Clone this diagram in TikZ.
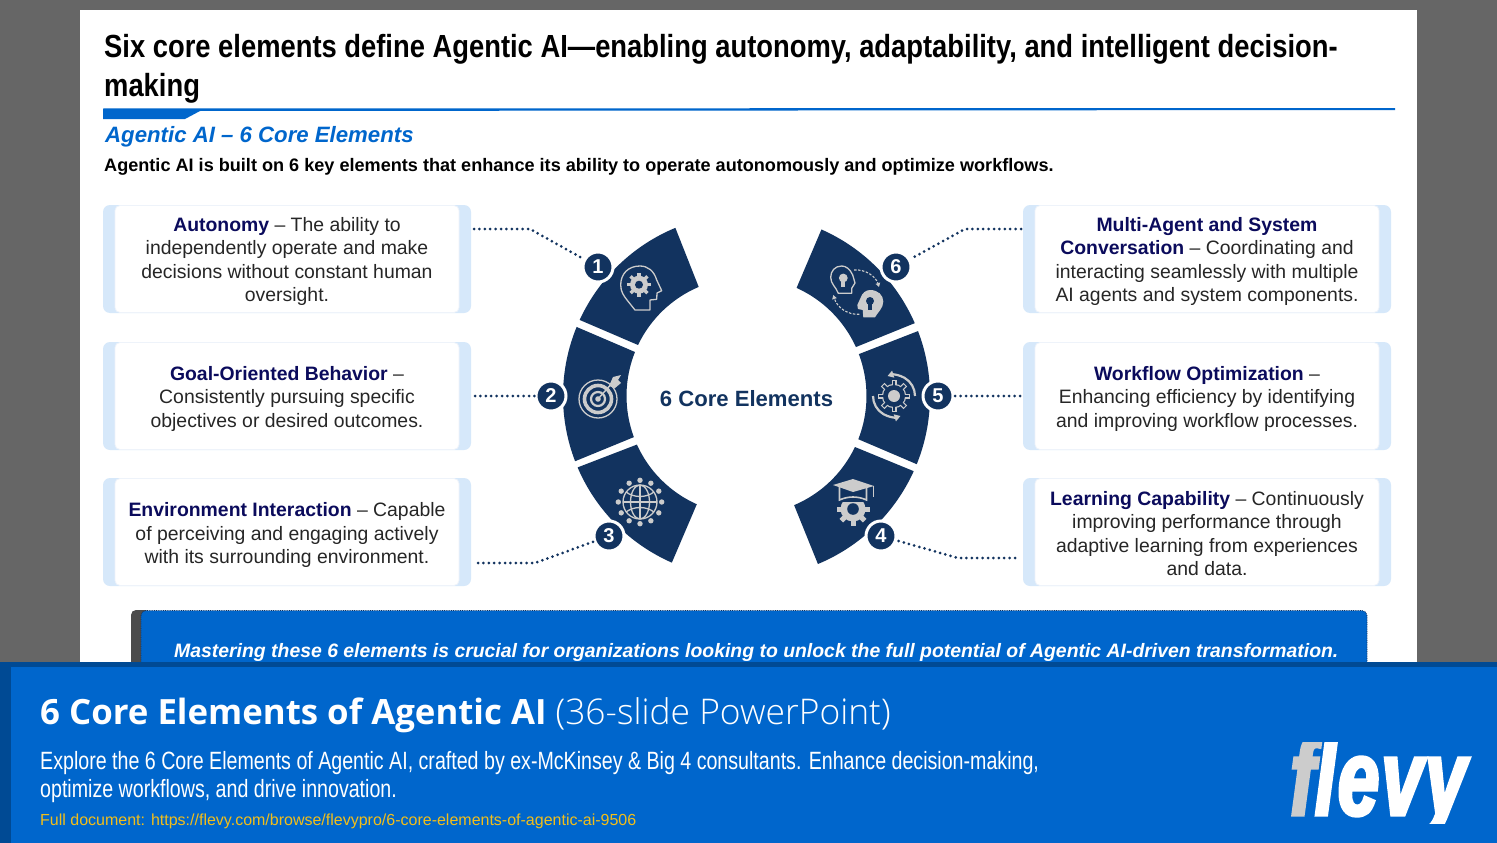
\documentclass[tikz,border=0pt]{standalone}
\usepackage{fontspec}
\usetikzlibrary{arrows.meta}
\setmainfont{Liberation Sans}
\newfontfamily\narrowfont[FakeStretch=0.855]{Liberation Sans}
\newfontfamily\bodyfont[FakeStretch=0.785]{Liberation Sans}
\newfontfamily\logofont[FakeStretch=0.69,FakeBold=3,LetterSpace=2]{Liberation Sans}
\newfontfamily\osans{Open Sans}
\newfontfamily\oslight{Open Sans Light}
\definecolor{navy}{HTML}{12335F}
\definecolor{brandblue}{HTML}{0066CC}
\definecolor{darkblue}{HTML}{004A94}
\definecolor{panelblue}{HTML}{D6E8FA}
\definecolor{paneledge}{HTML}{EEF3FA}
\definecolor{headnavy}{HTML}{0B0B5C}
\definecolor{icong}{HTML}{CCCCCC}
\definecolor{linkyellow}{HTML}{F2BE1A}
\definecolor{slidegray}{HTML}{666666}
\newcommand{\fs}[2]{\fontsize{#1}{#2}\selectfont}
\newcommand{\hd}[1]{\textbf{\textcolor{headnavy}{#1}}}
\newcommand{\seg}[5]{\fill[navy] ([shift={(#1,396)}]#2:182) arc[start angle=#2,end angle=#3,radius=182] -- ([shift={(#1,396)}]#4:118.5) arc[start angle=#4,end angle=#5,radius=118.5] -- cycle;}
\newcommand{\gearico}[5]{%
  \fill[icong] (#1,#2) circle (#3);
  \foreach \a in {0,45,...,315} \draw[icong,line width=#4,line cap=butt] ([shift={(#1,#2)}]\a:{#3*0.8}) -- ([shift={(#1,#2)}]\a:{#3*1.32});
  \fill[navy] (#1,#2) circle (#5);}
\tikzset{
  x=1pt,y=-1pt,
  panelback/.style={fill=panelblue,rounded corners=7pt},
  panelwhite/.style={fill=white,draw=paneledge,line width=0.8pt,rounded corners=5pt},
  paneltext/.style={align=center,inner sep=0pt,text=black!85,font=\fs{19.4}{23.5}},
  dotline/.style={navy,line width=3pt,line cap=round,dash pattern=on 0pt off 5.4pt},
  badge/.style={circle,fill=navy,draw=white,line width=3pt,minimum size=30pt,inner sep=0pt,text=white,font=\fs{20}{20}\bfseries},
  iconline/.style={icong,line width=1.3pt,line join=round},
  label/.style={inner sep=0pt,anchor=base west},
}
\begin{document}
\begin{tikzpicture}
\useasboundingbox (0,0) rectangle (1497,843);
\fill[slidegray] (0,0) rectangle (1497,843);
\fill[white] (80,10) rectangle (1417,670);
% title
\node[label,font=\narrowfont\fs{32}{39}\bfseries] (title1) at (104,58) {Six core elements define Agentic AI—enabling autonomy, adaptability, and intelligent decision-};
\node[label,font=\narrowfont\fs{32}{39}\bfseries] (title2) at (104,96) {making};
\fill[brandblue] (103,108.5) -- (1395,108) -- (1395,110) -- (200,111) -- (185,119) -- (103,119) -- cycle;
\node[label,font=\fs{22.2}{28}\bfseries\itshape,text=brandblue] (sub) at (105,142) {Agentic AI – 6 Core Elements};
\node[label,font=\fs{18.1}{22}\bfseries] (lead) at (104,171) {Agentic AI is built on 6 key elements that enhance its ability to operate autonomously and optimize workflows.};
% panels
\foreach \py in {205,342,478} {
  \fill[panelback] (103,\py) rectangle (471,\py+108);
  \filldraw[panelwhite] (115,\py+0.5) rectangle (459,\py+107.5);
  \fill[panelback] (1023,\py) rectangle (1391,\py+108);
  \filldraw[panelwhite] (1035,\py+0.5) rectangle (1379,\py+107.5);
}
\node[paneltext] (p1) at (287,261.5) {\hd{Autonomy} – The ability to\\independently operate and make\\decisions without constant human\\oversight.};
\node[paneltext] (p2) at (287,398.5) {\hd{Goal-Oriented Behavior} –\\Consistently pursuing specific\\objectives or desired outcomes.};
\node[paneltext] (p3) at (287,535) {\hd{Environment Interaction} – Capable\\of perceiving and engaging actively\\with its surrounding environment.};
\node[paneltext] (p6) at (1207,261.5) {\hd{Multi-Agent and System}\\\hd{Conversation} – Coordinating and\\interacting seamlessly with multiple\\AI agents and system components.};
\node[paneltext] (p5) at (1207,398.5) {\hd{Workflow Optimization} –\\Enhancing efficiency by identifying\\and improving workflow processes.};
\node[paneltext] (p4) at (1207,533.5) {\hd{Learning Capability} – Continuously\\improving performance through\\adaptive learning from experiences\\and data.};
% ring
\seg{745}{247.5}{204.7}{205.5}{247}
\seg{745}{202.3}{159}{159.7}{201.8}
\seg{745}{156.9}{113.7}{114}{155.8}
\seg{748}{293.8}{336.4}{335.6}{294.2}
\seg{748}{339.1}{382}{381.4}{339.3}
\seg{748}{24.4}{67.4}{67.1}{25.5}
\node[inner sep=0pt,font=\fs{22.1}{27}\bfseries,text=navy] (centre) at (746.5,399) {6 Core Elements};
% icon 1: head with gear
\draw[iconline] (635,310) -- (650,310) -- (650,300) -- (656.7,299.3) -- (657,293) -- (661.7,290.7) -- (656.7,280) .. controls (654,271) and (648,266) .. (640,266) .. controls (628,266) and (620.7,274) .. (620.7,285) .. controls (620.7,292) and (624,296) .. (627,300) -- cycle;
\gearico{639}{284.7}{9}{3.4}{4}
% icon 2: target
\draw[iconline] (598,399) circle (19);
\draw[icong,line width=3.6pt] (598,399) circle (13.5);
\draw[icong,line width=2.2pt] (598,399) circle (7);
\fill[icong] (598,399) circle (2.8);
\draw[icong,line width=1.4pt] (598,399) -- (613,382);
\fill[icong] (609,386) -- (613,377) -- (621,375) -- (618,380) -- (621,383) -- (615,388) -- cycle;
% icon 3: globe
\draw[iconline] (640,502) circle (17);
\draw[iconline] (640,485) -- (640,519) (623,502) -- (657,502);
\draw[iconline] (640,502) ellipse (9.5 and 17);
\draw[iconline] (626,492) .. controls (634,498) and (646,498) .. (654,492);
\draw[iconline] (626,512) .. controls (634,506) and (646,506) .. (654,512);
\foreach \a in {0,30,...,330} { \fill[icong] ([shift={(640,502)}]\a:21.7) circle (2.7); }
% icon 4: cap and gear
\gearico{853}{509}{12.5}{5}{5.8}
\fill[navy] (836,486) rectangle (870,502);
\draw[icong,line width=1.6pt] (839.5,487) -- (839.5,500) .. controls (848,496) and (858,496) .. (866.5,500) -- (866.5,487);
\fill[icong] (833,485) -- (853,479) -- (874,486) -- (853,492) -- cycle;
\draw[icong,line width=1pt] (873,486) -- (873,497);
% icon 5: gear with circular arrows
\draw[icong,line width=2.2pt,-{Triangle[length=6pt,width=7pt]}] ([shift={(894,396)}]0:21) arc[start angle=0,end angle=-108,radius=21];
\draw[icong,line width=2.2pt,-{Triangle[length=6pt,width=7pt]}] ([shift={(894,396)}]180:21) arc[start angle=180,end angle=72,radius=21];
\foreach \a in {0,45,...,315} \draw[icong,line width=5pt] ([shift={(894,396)}]\a:10) -- ([shift={(894,396)}]\a:16);
\fill[icong] (894,396) circle (12.2);
\foreach \a in {0,45,...,315} \draw[navy,line width=2.6pt] ([shift={(894,396)}]\a:9) -- ([shift={(894,396)}]\a:15);
\fill[navy] (894,396) circle (11);
\fill[icong] (894,396) circle (6);
% icon 6: heads and bulbs
\draw[iconline] (838.3,293.3) -- (851.7,293.3) -- (851.7,288.3) -- (855,283) -- (852.7,275) .. controls (850,269) and (846,266) .. (841.7,266) .. controls (835,266) and (830.7,271) .. (830.7,277.3) .. controls (830.7,284) and (836,287) .. cycle;
\fill[icong] (843.3,278) circle (4.4);
\fill[icong] (841.2,281) rectangle (845.4,287);
\fill[icong] (857.3,305) -- (860.5,298) .. controls (862,293) and (866,290) .. (870,290) .. controls (878,290) and (883.3,295) .. (883.3,301.7) .. controls (883.3,308) and (878,312) .. (875,317.3) -- (863.3,317.3) -- (862.7,310) -- (858,309) -- cycle;
\fill[navy] (870,301) circle (4);
\fill[navy] (868.2,304) rectangle (871.8,310);
\draw[icong,line width=1.1pt,dash pattern=on 2.5pt off 1.5pt,-{Triangle[length=4pt,width=4.5pt]}] (854,270) .. controls (866,269) and (876,277) .. (879,287);
\draw[icong,line width=1.1pt,dash pattern=on 2.5pt off 1.5pt,-{Triangle[length=4pt,width=4.5pt]}] (859.3,314.3) .. controls (847,315) and (837,307) .. (833.3,295);
% connectors
\coordinate (c1a) at (474,229); \coordinate (c1b) at (530,229);
\coordinate (c2a) at (475,396);
\coordinate (c3a) at (478,563); \coordinate (c3b) at (535,563);
\coordinate (c4a) at (1015,558); \coordinate (c4b) at (958,558);
\coordinate (c5a) at (1020,396);
\coordinate (c6a) at (1021,229); \coordinate (c6b) at (965,229);
\node[badge] (b1) at (598,267) {1};
\node[badge] (b2) at (551,396) {2};
\node[badge] (b3) at (609,536) {3};
\node[badge] (b4) at (881,536) {4};
\node[badge] (b5) at (938,396) {5};
\node[badge] (b6) at (896,267) {6};
\draw[dotline] (c1a) -- (c1b) -- (b1);
\draw[dotline] (c2a) -- (b2);
\draw[dotline] (c3a) -- (c3b) -- (b3);
\draw[dotline] (c4a) -- (c4b) -- (b4);
\draw[dotline] (c5a) -- (b5);
\draw[dotline] (c6a) -- (c6b) -- (b6);
% banner
\fill[black!70,rounded corners=5pt] (131,610) rectangle (150,680);
\draw[navy,fill=brandblue,densely dotted,line width=0.8pt,rounded corners=5pt] (141,610.5) rectangle (1367,680);
\node[label,font=\fs{19.4}{24}\bfseries\itshape,text=white] (banner) at (174,657) {Mastering these 6 elements is crucial for organizations looking to unlock the full potential of Agentic AI-driven transformation.};
% footer
\fill[darkblue] (0,662) rectangle (1497,843);
\fill[brandblue] (11,667) rectangle (1497,843);
\node[label,text=white] (ftitle) at (40,724) {\osans\fs{34.8}{42}\bfseries 6 Core Elements of Agentic AI \oslight\mdseries\fs{35.4}{42}(36-slide PowerPoint)};
\node[label,font=\bodyfont\fs{25}{28},text=white] (fbody1) at (40,769) {Explore the 6 Core Elements of Agentic AI, crafted by ex-McKinsey \& Big 4 consultants. Enhance decision-making,};
\node[label,font=\bodyfont\fs{25}{28},text=white] (fbody2) at (40,797) {optimize workflows, and drive innovation.};
\node[label,font=\fs{16}{20},text=linkyellow] (flink) at (40,825) {Full document: https://flevy.com/browse/flevypro/6-core-elements-of-agentic-ai-9506};
\begin{scope}
\clip (1270,742) rectangle (1497,823);
\node[label,font=\logofont\fs{108}{108}\bfseries\itshape] (logo) at (1290,815) {\textcolor{icong}{f}\textcolor{white}{levy}};
\end{scope}
\end{tikzpicture}
\end{document}
